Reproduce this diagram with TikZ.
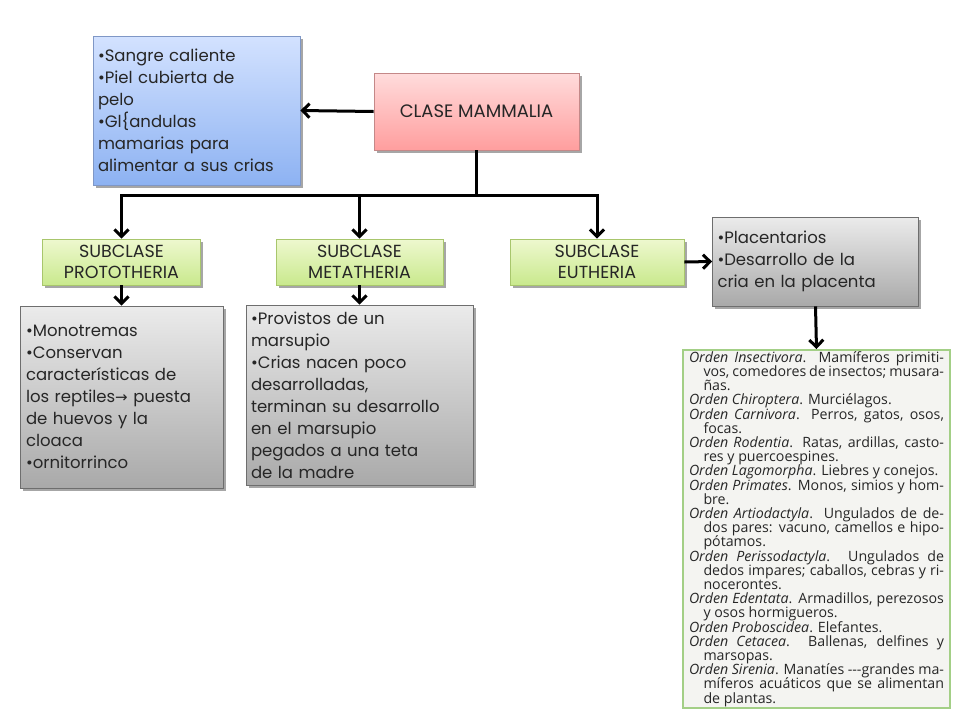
\documentclass[tikz,border=0pt]{standalone}
\usepackage{fontspec}
\setmainfont{Poppins}
\newfontfamily\symfont{DejaVu Sans}
\newfontfamily\scanfont{Open Sans}
\usetikzlibrary{arrows.meta,shadows}

\definecolor{bluetop}{HTML}{D3E2FF}
\definecolor{bluebot}{HTML}{8DB2F2}
\definecolor{blueline}{HTML}{7F97C6}
\definecolor{redtop}{HTML}{FFDCDC}
\definecolor{redbot}{HTML}{FF9E9E}
\definecolor{redline}{HTML}{C48888}
\definecolor{greentop}{HTML}{EEF8CF}
\definecolor{greenbot}{HTML}{C9E98D}
\definecolor{greenline}{HTML}{A8C66C}
\definecolor{greytop}{HTML}{EBEBEB}
\definecolor{greybot}{HTML}{A9A9A9}
\definecolor{greyline}{HTML}{6E6E6E}
\definecolor{scanline}{HTML}{A3CF86}
\definecolor{scanfill}{HTML}{F4F4F1}
\definecolor{txt}{HTML}{262626}

\tikzset{
  box/.style={draw, line width=0.8pt, align=left, text=txt,
    drop shadow={shadow xshift=2.5pt, shadow yshift=-2.5pt, opacity=0.35, fill=black}},
  bluebox/.style={box, draw=blueline, top color=bluetop, bottom color=bluebot},
  redbox/.style={box, draw=redline, top color=redtop, bottom color=redbot, align=center},
  greenbox/.style={box, draw=greenline, top color=greentop, bottom color=greenbot, align=center,
    font=\fontsize{17.5}{21}\selectfont, minimum height=46pt, inner ysep=0pt},
  greybox/.style={box, draw=greyline, top color=greytop, bottom color=greybot},
  bigtext/.style={font=\fontsize{16.5}{22}\selectfont},
  arr/.style={line width=3pt, -{Straight Barb[length=7pt,width=14pt,line width=3pt]}},
}
\newcommand\entrada{\hangindent=14.5pt\hangafter=1 }

\begin{document}
\begin{tikzpicture}[x=1pt,y=-1pt]
\useasboundingbox (0,0) rectangle (960,720);

\node[redbox, minimum width=205pt, minimum height=77pt, font=\fontsize{18}{20}\selectfont]
  (clase) at (476.5,111.5) {CLASE MAMMALIA};

\node[bluebox, bigtext, text width=197pt, inner xsep=5pt, minimum height=149pt]
  (rasgos) at (196.5,110.5)
  {•Sangre caliente\\•Piel cubierta de\\pelo\\•Gl\{andulas\\mamarias para\\alimentar a sus crias};

\node[greenbox, minimum width=158pt] (proto) at (121.5,262) {SUBCLASE\\PROTOTHERIA};
\node[greenbox, minimum width=167pt] (meta) at (359.5,262) {SUBCLASE\\METATHERIA};
\node[greenbox, minimum width=174pt] (euth) at (597,262) {SUBCLASE\\EUTHERIA};

\node[greybox, bigtext, text width=191pt, inner xsep=6pt, minimum height=182pt]
  (mono) at (121.5,397)
  {•Monotremas\\•Conservan\\características de\\los reptiles{\symfont\fontsize{15}{22}\selectfont→} puesta\\de huevos y la\\cloaca\\•ornitorrinco};

\node[greybox, bigtext, text width=217pt, inner xsep=5pt, minimum height=180pt]
  (marsu) at (359.5,395)
  {•Provistos de un\\marsupio\\•Crias nacen poco\\desarrolladas,\\terminan su desarrollo\\en el marsupio\\pegados a una teta\\de la madre};

\node[greybox, bigtext, text width=196pt, inner xsep=5pt, minimum height=89pt]
  (placen) at (815.5,261.5)
  {•Placentarios\\•Desarrollo de la\\cria en la placenta};

\node[draw=scanline, line width=2pt, fill=scanfill, text=txt, text width=255pt,
  inner xsep=6pt, inner ysep=0pt, minimum height=358pt, align=justify,
  font=\scanfont\fontsize{14.2}{14.2}\selectfont]
  (ordenes) at (816.5,529)
  {\parindent=0pt\parskip=0pt\lineskiplimit=-20pt
  \entrada\textit{Orden Insectivora}. Mamíferos primiti-\linebreak vos, comedores de insectos; musara-\linebreak ñas.\par
  \entrada\textit{Orden Chiroptera}. Murciélagos.\par
  \entrada\textit{Orden Carnivora}. Perros, gatos, osos,\linebreak focas.\par
  \entrada\textit{Orden Rodentia}. Ratas, ardillas, casto-\linebreak res y puercoespines.\par
  \entrada\textit{Orden Lagomorpha}. Liebres y conejos.\par
  \entrada\textit{Orden Primates}. Monos, simios y hom-\linebreak bre.\par
  \entrada\textit{Orden Artiodactyla}. Ungulados de de-\linebreak dos pares: vacuno, camellos e hipo-\linebreak pótamos.\par
  \entrada\textit{Orden Perissodactyla}. Ungulados de\linebreak dedos impares; caballos, cebras y ri-\linebreak nocerontes.\par
  \entrada\textit{Orden Edentata}. Armadillos, perezosos\linebreak y osos hormigueros.\par
  \entrada\textit{Orden Proboscidea}. Elefantes.\par
  \entrada\textit{Orden Cetacea}. Ballenas, delfines y\linebreak marsopas.\par
  \entrada\textit{Orden Sirenia}. Manatíes ---grandes ma-\linebreak míferos acuáticos que se alimentan\linebreak de plantas.\par};

\coordinate (bus) at (476.5,195);

\draw[arr] (clase.west) -- (rasgos.east);
\foreach \sub in {proto,meta,euth}
  \draw[arr] (clase.south) -- (bus) -| (\sub.north);
\draw[arr] (proto.south) -- (mono.north);
\draw[arr] (meta.south) -- (marsu.north);
\draw[arr] (euth.east) -- (placen.west);
\draw[arr] (placen.south) -- (ordenes.north);
\end{tikzpicture}
\end{document}
